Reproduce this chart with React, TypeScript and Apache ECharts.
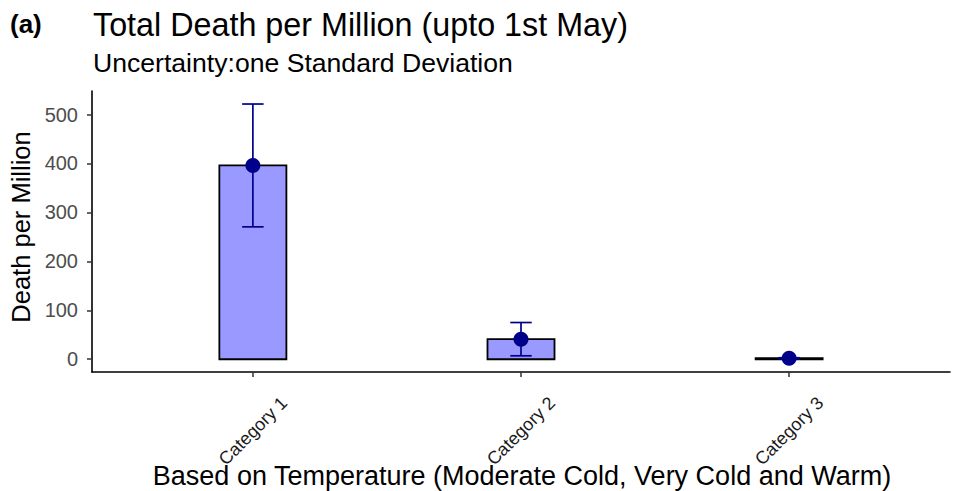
import React, { useEffect, useRef } from "react";
import * as echarts from "echarts";

const categories = ["Category 1", "Category 2", "Category 3"];
const means = [396, 41, 2];
const sds = [125.5, 34, 1];
const yTicks = [0, 100, 200, 300, 400, 500];
const xPositions = [1, 2, 3];

const FONT = "'Liberation Sans', Arial, Helvetica, sans-serif";

export default function App() {
  const ref = useRef<HTMLDivElement>(null);

  useEffect(() => {
    if (!ref.current) return;
    const chart = echarts.init(ref.current, null, { renderer: "svg" });

    const barData = xPositions.map((x, i) => [x, means[i]]);
    const errData = xPositions.map((x, i) => [x, means[i] - sds[i], means[i] + sds[i]]);
    const pointData = xPositions.map((x, i) => [x, means[i]]);

    const option: any = {
      animation: false,
      backgroundColor: "#ffffff",
      textStyle: { fontFamily: FONT },
      grid: { left: 92, right: 22, top: 91, bottom: 119, containLabel: false },
      xAxis: {
        type: "value",
        min: 0.4,
        max: 3.6,
        splitLine: { show: false },
        axisLine: { show: true, onZero: false, lineStyle: { color: "#000", width: 1.6 } },
        axisTick: {
          show: true,
          customValues: xPositions,
          length: 5,
          lineStyle: { color: "#333", width: 1.5 },
        },
        axisLabel: {
          show: true,
          customValues: xPositions,
          formatter: (v: number) => categories[Math.round(v) - 1] ?? "",
          rotate: 45,
          align: "center",
          verticalAlign: "middle",
          margin: 59,
          fontSize: 18,
          color: "#1a1a1a",
          fontFamily: FONT,
        },
      },
      yAxis: {
        type: "value",
        min: -26.1,
        max: 548.1,
        splitLine: { show: false },
        axisLine: { show: true, onZero: false, lineStyle: { color: "#000", width: 1.6 } },
        axisTick: {
          show: true,
          customValues: yTicks,
          length: 5,
          lineStyle: { color: "#333", width: 1.5 },
        },
        axisLabel: {
          show: true,
          customValues: yTicks,
          formatter: (v: number) => String(v),
          margin: 14,
          fontSize: 20,
          color: "#4D4D4D",
          fontFamily: FONT,
        },
      },
      graphic: [
        {
          type: "text",
          x: 10,
          y: 24,
          style: {
            text: "(a)",
            font: `bold 26px ${FONT}`,
            fill: "#000",
            align: "left",
            verticalAlign: "middle",
          },
        },
        {
          type: "text",
          x: 93,
          y: 25,
          style: {
            text: "Total Death per Million (upto 1st May)",
            font: `32.3px ${FONT}`,
            fill: "#000",
            align: "left",
            verticalAlign: "middle",
          },
        },
        {
          type: "text",
          x: 93,
          y: 63,
          style: {
            text: "Uncertainty:one Standard Deviation",
            font: `26.6px ${FONT}`,
            fill: "#000",
            align: "left",
            verticalAlign: "middle",
          },
        },
        {
          type: "text",
          x: 522,
          y: 476,
          style: {
            text: "Based on Temperature (Moderate Cold, Very Cold and Warm)",
            font: `27px ${FONT}`,
            fill: "#000",
            align: "center",
            verticalAlign: "middle",
          },
        },
        {
          type: "text",
          x: 21,
          y: 227,
          rotation: Math.PI / 2,
          style: {
            text: "Death per Million",
            font: `25.5px ${FONT}`,
            fill: "#000",
            align: "center",
            verticalAlign: "middle",
          },
        },
      ],
      series: [
        {
          type: "custom",
          data: barData,
          z: 2,
          renderItem: (params: any, api: any) => {
            const x = api.value(0);
            const y = api.value(1);
            const p1 = api.coord([x - 0.125, y]);
            const p2 = api.coord([x + 0.125, 0]);
            return {
              type: "rect",
              shape: { x: p1[0], y: p1[1], width: p2[0] - p1[0], height: p2[1] - p1[1] },
              style: { fill: "#9999FF", stroke: "#000", lineWidth: 1.8 },
            };
          },
        },
        {
          type: "custom",
          data: errData,
          z: 3,
          renderItem: (params: any, api: any) => {
            const x = api.value(0);
            const lo = api.value(1);
            const hi = api.value(2);
            const w = 0.04;
            const top = api.coord([x, hi]);
            const bot = api.coord([x, lo]);
            const tl = api.coord([x - w, hi]);
            const tr = api.coord([x + w, hi]);
            const bl = api.coord([x - w, lo]);
            const br = api.coord([x + w, lo]);
            const st = { stroke: "#00008B", lineWidth: 1.7 };
            return {
              type: "group",
              children: [
                { type: "line", shape: { x1: top[0], y1: top[1], x2: bot[0], y2: bot[1] }, style: st },
                { type: "line", shape: { x1: tl[0], y1: tl[1], x2: tr[0], y2: tr[1] }, style: st },
                { type: "line", shape: { x1: bl[0], y1: bl[1], x2: br[0], y2: br[1] }, style: st },
              ],
            };
          },
        },
        {
          type: "scatter",
          data: pointData,
          symbol: "circle",
          symbolSize: 15,
          itemStyle: { color: "#00008B", opacity: 1 },
          z: 4,
        },
      ],
    };

    chart.setOption(option);
    return () => chart.dispose();
  }, []);

  return (
    <div
      ref={ref}
      style={{ position: "absolute", left: 0, top: 0, width: 972, height: 491 }}
    />
  );
}
